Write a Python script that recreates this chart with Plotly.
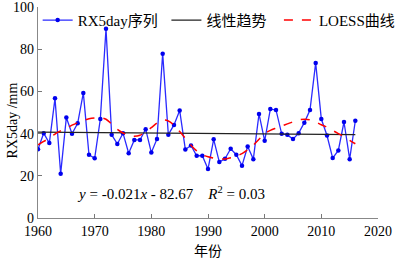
import numpy as np
import plotly.graph_objects as go

years = list(range(1960, 2017))
rx5day = [32.6, 40.2, 35.5, 56.7, 21.0, 47.6, 39.9, 44.9, 59.3, 30.0,
          28.3, 46.9, 89.7, 39.4, 35.1, 40.2, 30.7, 37.0, 37.0, 42.1,
          31.0, 37.5, 77.9, 39.5, 44.1, 51.0, 32.5, 34.4, 29.5, 29.5,
          23.2, 37.3, 26.5, 28.1, 32.8, 30.0, 24.8, 33.9, 27.9, 49.3,
          36.6, 51.6, 51.2, 39.9, 39.4, 37.4, 40.2, 45.2, 51.2, 73.5,
          46.9, 39.1, 28.4, 32.0, 45.5, 27.9, 46.1]
loess = [34.7, 36.3, 37.8, 39.8, 41.3, 42.6, 44.0, 45.2, 46.2, 47.0,
         47.4, 47.5, 46.8, 44.5, 42.0, 40.3, 39.2, 38.7, 39.2, 41.0,
         42.8, 45.0, 46.4, 46.0, 44.0, 41.0, 37.8, 34.5, 31.8, 30.0,
         29.0, 28.4, 28.1, 28.0, 28.6, 29.4, 30.5, 32.3, 34.5, 37.3,
         40.0, 41.5, 42.6, 43.6, 44.6, 45.6, 46.5, 46.8, 46.5, 45.5,
         44.2, 43.0, 41.5, 40.0, 38.5, 36.8, 35.2]
series_names = ["RX5day序列", "线性趋势", "LOESS曲线"]
x_ticks = [1960, 1970, 1980, 1990, 2000, 2010, 2020]
y_ticks = [0, 20, 40, 60, 80, 100]

coef = np.polyfit(years, rx5day, 1)
trend = np.polyval(coef, years)

FONT = "Liberation Serif, Times New Roman, Noto Sans CJK SC, serif"
NB = "\u00a0"

fig = go.Figure()
fig.add_trace(go.Scatter(x=years, y=rx5day, mode="lines+markers", name=series_names[0] + NB,
                         line=dict(color="#2a2aff", width=1.3),
                         marker=dict(color="#0000ee", size=4.5)))
fig.add_trace(go.Scatter(x=years, y=trend, mode="lines", name=series_names[1] + NB * 2,
                         line=dict(color="#222222", width=1.2)))
fig.add_trace(go.Scatter(x=years, y=loess, mode="lines", name=series_names[2],
                         line=dict(color="#ff0000", width=1.5, dash="dash", shape="spline")))

axis_common = dict(ticks="inside", ticklen=4, tickcolor="#777", showline=True,
                   linecolor="#888", linewidth=1.3, showgrid=False, zeroline=False,
                   mirror=False, automargin=False, ticklabeloverflow="allow",
                   tickfont=dict(size=14, family=FONT))

fig.update_layout(
    width=396, height=258,
    margin=dict(l=37.5, r=18.3, t=6.5, b=39.5, autoexpand=False),
    paper_bgcolor="white", plot_bgcolor="white",
    font=dict(family=FONT, size=14, color="black"),
    showlegend=True,
    legend=dict(orientation="h", x=-0.001, y=1.015, xanchor="left", yanchor="top",
                bgcolor="rgba(0,0,0,0)", font=dict(size=15, family=FONT),
                itemwidth=30, tracegroupgap=0),
    xaxis=dict(range=[1960, 2020], tickvals=x_ticks, **axis_common),
    yaxis=dict(range=[0, 100], tickvals=y_ticks, **axis_common),
    annotations=[
        dict(xref="paper", yref="paper", x=0.11, y=0.12, xanchor="left",
             yanchor="middle", showarrow=False,
             text="<i>y</i> = -0.021<i>x</i> - 82.67    <i>R</i><sup>2</sup> = 0.03",
             font=dict(size=15, family=FONT, color="black")),
        dict(xref="paper", yref="paper", x=0.5, y=-0.158, xanchor="center",
             yanchor="middle", showarrow=False, text="年份",
             font=dict(size=14, family=FONT, color="black")),
        dict(xref="paper", yref="paper", x=-0.075, y=0.46, xanchor="center",
             yanchor="middle", showarrow=False, text="RX5day /mm", textangle=-90,
             font=dict(size=14, family=FONT, color="black")),
    ],
)

fig.write_html("out.html", config={"displayModeBar": False},
               post_script="document.body.style.margin='0px';")
